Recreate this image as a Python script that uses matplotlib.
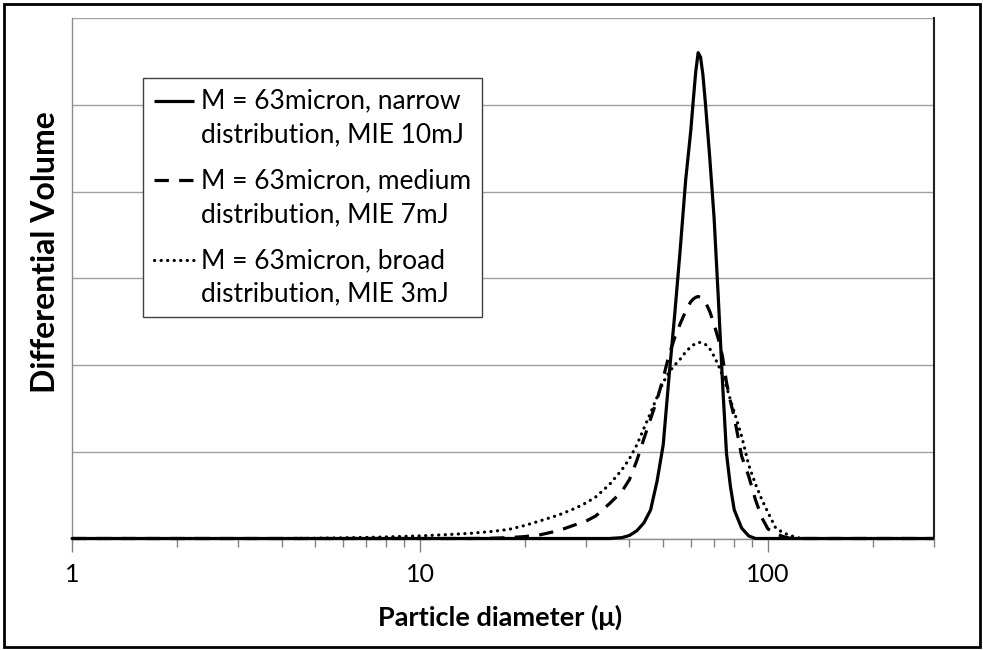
import matplotlib
matplotlib.use("Agg")
import matplotlib.pyplot as plt
from matplotlib.patches import Rectangle
from matplotlib.ticker import FixedLocator, NullFormatter
from matplotlib.legend_handler import HandlerLine2D

# ---- data ----
diameter = [1, 2, 3, 4, 5, 6, 7, 8, 10, 12, 14, 16, 18, 20, 22, 25, 28, 30, 32,
            35, 38, 40, 42, 44, 46, 48, 50, 52, 54, 56, 58, 60, 61, 62, 63, 64,
            65, 66, 68, 70, 72, 74, 76, 78, 80, 84, 88, 92, 96, 100, 105, 110,
            115, 120, 125, 150, 200, 300]

narrow = [0, 0, 0, 0, 0, 0, 0, 0, 0, 0, 0, 0, 0, 0, 0, 0, 0, 0, 0,
          0, 0.01, 0.035, 0.09, 0.18, 0.33, 0.66, 1.08, 1.88, 2.6, 3.35, 4.13, 4.7, 5.05, 5.38, 5.6, 5.55,
          5.35, 5.05, 4.4, 3.7, 2.77, 1.81, 0.98, 0.6, 0.33, 0.12, 0.03, 0, 0, 0, 0, 0,
          0, 0, 0, 0, 0, 0]

medium = [0, 0, 0, 0, 0, 0, 0, 0, 0, 0, 0, 0.003, 0.01, 0.022, 0.04, 0.09, 0.16, 0.2, 0.26,
          0.4, 0.54, 0.68, 0.9, 1.15, 1.38, 1.6, 1.85, 2.12, 2.32, 2.48, 2.62, 2.73, 2.76, 2.78, 2.79, 2.78,
          2.76, 2.73, 2.62, 2.47, 2.3, 2.1, 1.8, 1.58, 1.4, 0.95, 0.72, 0.45, 0.24, 0.11, 0.06, 0.025,
          0.005, 0, 0, 0, 0, 0]

broad = [0, 0, 0, 0, 0.003, 0.008, 0.012, 0.018, 0.03, 0.045, 0.06, 0.08, 0.105, 0.15, 0.2, 0.27, 0.35, 0.41, 0.48,
         0.62, 0.79, 0.92, 1.08, 1.27, 1.45, 1.63, 1.8, 1.92, 2.0, 2.07, 2.15, 2.21, 2.23, 2.25, 2.26, 2.26,
         2.25, 2.24, 2.19, 2.1, 2.0, 1.88, 1.75, 1.6, 1.46, 1.18, 0.85, 0.63, 0.45, 0.3, 0.13, 0.07,
         0.04, 0.015, 0, 0, 0, 0]

labels = ["M = 63micron, narrow\ndistribution, MIE 10mJ",
          "M = 63micron, medium\ndistribution, MIE 7mJ",
          "M = 63micron, broad\ndistribution, MIE 3mJ"]

major_ticks = [1, 10, 100]
major_labels = ["1", "10", "100"]
minor_ticks = [2, 3, 4, 5, 6, 7, 8, 9, 20, 30, 40, 50, 60, 70, 80, 90, 200, 300]

xlabel = "Particle diameter (\u03bc)"
ylabel = "Differential Volume"


class FirstLineHandler(HandlerLine2D):
    """Place the legend line next to the first text line of the label."""
    def __init__(self, shift, **kw):
        super().__init__(**kw)
        self.shift = shift

    def create_artists(self, legend, orig_handle, xdescent, ydescent, width,
                       height, fontsize, trans):
        return super().create_artists(legend, orig_handle, xdescent,
                                      ydescent - 2 * self.shift, width, height,
                                      fontsize, trans)


# ---- figure ----
plt.rcParams['font.family'] = ['Lato', 'DejaVu Sans']
W, H = 983, 650
fig = plt.figure(figsize=(W / 100, H / 100), dpi=100)
ax = fig.add_axes([72 / W, 1 - 538.5 / H, 862 / W, 520.5 / H])

lw = 2.3
l1, = ax.plot(diameter, narrow, color='black', lw=lw, solid_capstyle='butt',
              solid_joinstyle='round', label=labels[0], clip_on=False, zorder=5)
l2, = ax.plot(diameter, medium, color='black', lw=lw, dashes=(4.5, 3.2),
              label=labels[1], clip_on=False, zorder=4)
l3, = ax.plot(diameter, broad, color='black', lw=lw, dashes=(0.05, 2.0),
              dash_capstyle='round', label=labels[2], clip_on=False, zorder=3)

ax.set_xscale('log')
ax.set_xlim(1, 300)
ax.set_ylim(0, 6)

ax.xaxis.set_major_locator(FixedLocator(major_ticks))
ax.set_xticklabels(major_labels)
ax.xaxis.set_minor_locator(FixedLocator(minor_ticks))
ax.xaxis.set_minor_formatter(NullFormatter())
ax.tick_params(axis='x', which='major', direction='out', length=9, width=1,
               color='#808080', labelsize=18, pad=9, labelcolor='black')
ax.tick_params(axis='x', which='minor', direction='out', length=6, width=1,
               color='#808080')

ax.set_yticks([0, 1, 2, 3, 4, 5, 6])
ax.set_yticklabels([])
ax.tick_params(axis='y', length=0)
ax.yaxis.grid(True, color='#a0a0a0', lw=1.0)
ax.set_axisbelow(True)

for s in ['left', 'bottom']:
    ax.spines[s].set_color('#8c8c8c')
    ax.spines[s].set_linewidth(1.0)
ax.spines['top'].set_visible(False)
ax.spines['right'].set_color('#202020')
ax.spines['right'].set_linewidth(1.5)

ax.set_xlabel(xlabel, fontsize=19.5, fontweight='bold')
ax.xaxis.label.set_va('center')
ax.xaxis.set_label_coords(0.497, (538.5 - 617) / 520.5)
ax.set_ylabel(ylabel, fontsize=23, fontweight='bold')
ax.yaxis.label.set_va('center')
ax.yaxis.set_label_coords((46 - 72) / 862, (538.5 - 252) / 520.5)

fs_leg = 19
shift = 0.68 * fs_leg
leg = ax.legend(handles=[l1, l2, l3], loc='upper left',
                bbox_to_anchor=((143 - 72) / 862, (538.5 - 78) / 520.5),
                borderaxespad=0, fontsize=fs_leg, frameon=True, fancybox=False,
                handlelength=1.55, handletextpad=0.25, borderpad=0.4,
                labelspacing=0.8, edgecolor='#404040', framealpha=1,
                handler_map={l1: FirstLineHandler(shift),
                             l2: FirstLineHandler(shift),
                             l3: FirstLineHandler(shift)})
leg.get_frame().set_linewidth(1.0)
for t in leg.get_texts():
    t.set_linespacing(1.43)

fig.patches.append(Rectangle((4 / W, 3 / H), 976 / W, 643 / H, transform=fig.transFigure,
                             fill=False, lw=2, ec='black'))

fig.savefig("out.png", dpi=100)
